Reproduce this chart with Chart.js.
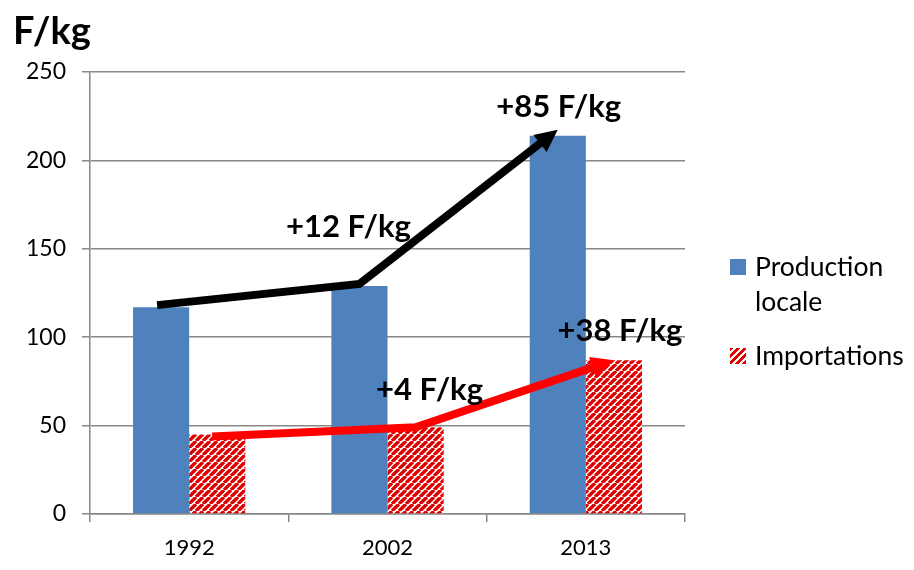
<!DOCTYPE html>
<html>
<head>
<meta charset="utf-8">
<script src="https://cdn.jsdelivr.net/npm/chart.js@4.4.1/dist/chart.umd.min.js"></script>
<style>
  html, body { margin: 0; padding: 0; background: #fff; }
  #wrap { position: relative; width: 914px; height: 570px; font-family: Lato, "Noto Sans", sans-serif; }
  #chart { position: absolute; left: 0; top: 0; }
  .unit { position: absolute; left: 13px; top: 6px; font-size: 38px; font-weight: bold; color: #000; }
  .legend { position: absolute; left: 730px; top: 249px; font-size: 26.5px; color: #000; line-height: 35px; }
  .legend .item { position: relative; padding-left: 25px; margin-bottom: 19px; }
  .legend .sw { position: absolute; left: 0; top: 10px; width: 16px; height: 16px; }
  .sw.blue { background: #4f81bd; }
  .sw.hatch { background: repeating-linear-gradient(-45deg, #e00000 0 3px, #fff 3px 5px); }
</style>
</head>
<body>
<div id="wrap">
  <canvas id="chart" width="914" height="570"></canvas>
  <div class="unit">F/kg</div>
  <div class="legend">
    <div class="item"><span class="sw blue"></span>Production<br>locale</div>
    <div class="item"><span class="sw hatch"></span>Importations</div>
  </div>
</div>
<script>
// data
const years = ['1992', '2002', '2013'];
const production = [117, 129, 214];
const imports = [45, 49, 87];
const yTicks = [0, 50, 100, 150, 200, 250];
const prodGains = ['+12 F/kg', '+85 F/kg'];
const importGains = ['+4 F/kg', '+38 F/kg'];

const FONT = 'Lato, "Noto Sans", sans-serif';

function makeHatch() {
    const s = 7;
    const c = document.createElement('canvas');
    c.width = s; c.height = s;
    const g = c.getContext('2d');
    g.fillStyle = '#fff';
    g.fillRect(0, 0, s, s);
    g.strokeStyle = '#e00000';
    g.lineWidth = 3.4;
    g.beginPath();
    for (let k = -1; k <= 1; k++) {
        g.moveTo(k * s, s);
        g.lineTo(k * s + s, 0);
    }
    g.stroke();
    return g.createPattern(c, 'repeat');
}

function drawArrow(ctx, pts, color) {
    ctx.save();
    ctx.strokeStyle = color;
    ctx.fillStyle = color;
    ctx.lineWidth = 8;
    ctx.lineJoin = 'miter';
    const n = pts.length;
    const a = pts[n - 2], b = pts[n - 1];
    const ang = Math.atan2(b.y - a.y, b.x - a.x);
    const head = 25;
    // stop line before head
    const ex = b.x - Math.cos(ang) * head * 0.8;
    const ey = b.y - Math.sin(ang) * head * 0.8;
    ctx.beginPath();
    ctx.moveTo(pts[0].x, pts[0].y);
    for (let i = 1; i < n - 1; i++) ctx.lineTo(pts[i].x, pts[i].y);
    ctx.lineTo(ex, ey);
    ctx.stroke();
    ctx.beginPath();
    ctx.moveTo(b.x, b.y);
    ctx.lineTo(b.x - head * Math.cos(ang - 0.45), b.y - head * Math.sin(ang - 0.45));
    ctx.lineTo(b.x - head * Math.cos(ang + 0.45), b.y - head * Math.sin(ang + 0.45));
    ctx.closePath();
    ctx.fill();
    ctx.restore();
}

const annotations = {
    id: 'annotations',
    afterDatasetsDraw(chart) {
        const ctx = chart.ctx;
        const prod = chart.getDatasetMeta(0).data;
        const imp = chart.getDatasetMeta(1).data;

        drawArrow(ctx, prod.map((b, i) => ({ x: b.x - (i === 0 ? 4 : 0), y: b.y - 2 - (i === prod.length - 1 ? 4 : 0) })), '#000');
        drawArrow(ctx, imp.map((b, i) => ({ x: b.x - (i === 0 ? 5 : 0), y: b.y + (i === 0 ? 2 : 0) })), '#ff0000');

        ctx.save();
        ctx.font = 'bold 31px ' + FONT;
        ctx.fillStyle = '#000';
        ctx.textAlign = 'center';
        ctx.textBaseline = 'middle';
        ctx.fillText(prodGains[0], prod[1].x - 11, prod[1].y - 59);
        ctx.fillText(prodGains[1], prod[2].x + 1, prod[2].y - 29);
        ctx.fillText(importGains[0], imp[1].x + 14, imp[1].y - 37);
        ctx.fillText(importGains[1], imp[2].x + 6, imp[2].y - 29);
        ctx.restore();
    }
};

const ctx = document.getElementById('chart').getContext('2d');
const chart = new Chart(ctx, {
    type: 'bar',
    data: {
        labels: years,
        datasets: [{
            label: 'Production locale',
            data: production,
            backgroundColor: '#4f81bd',
            categoryPercentage: 0.566,
            barPercentage: 1
        }, {
            label: 'Importations',
            data: imports,
            backgroundColor: makeHatch(),
            categoryPercentage: 0.566,
            barPercentage: 1
        }]
    },
    options: {
        responsive: false,
        animation: false,
        layout: { padding: { top: 72, right: 229, left: 0, bottom: 0 } },
        plugins: {
            legend: { display: false },
            tooltip: { enabled: false }
        },
        scales: {
            x: {
                grid: {
                    offset: true,
                    drawOnChartArea: false,
                    drawTicks: true,
                    tickLength: 8,
                    color: '#888',
                    lineWidth: 1.5
                },
                border: { display: true, color: '#888', width: 1.5 },
                ticks: { color: '#000', font: { family: FONT, size: 22 }, padding: 13 },
                afterFit(scale) { scale.height = 56; }
            },
            y: {
                min: yTicks[0],
                max: yTicks[yTicks.length - 1],
                afterBuildTicks(scale) { scale.ticks = yTicks.map(v => ({ value: v })); },
                grid: { color: '#888', lineWidth: 1.5, tickLength: 8 },
                border: { display: true, color: '#888', width: 1.5 },
                ticks: { color: '#000', font: { family: FONT, size: 23 }, padding: 16 },
                afterFit(scale) { scale.width = 90; }
            }
        }
    },
    plugins: [annotations]
});
</script>
</body>
</html>
